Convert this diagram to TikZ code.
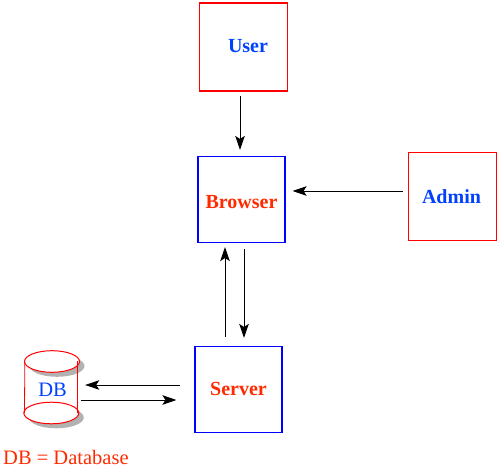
\documentclass[tikz,border=0pt]{standalone}
\usepackage{fontspec}
\setmainfont{Liberation Serif}
\usetikzlibrary{arrows.meta,shapes.geometric}
\definecolor{labelred}{RGB}{255,42,0}
\definecolor{labelblue}{RGB}{0,64,255}

\begin{document}
\begin{tikzpicture}[x=1pt,y=1pt,>={Stealth[length=14pt,width=9.5pt,inset=3pt]},
    every node/.style={align=center,font=\fontsize{20.5}{24}\selectfont},
    redbox/.style={draw=red,line width=1.2pt,minimum width=88pt,minimum height=88pt,text=labelblue,font=\fontsize{20}{24}\selectfont\bfseries},
    bluebox/.style={draw=blue,line width=1.1pt,minimum width=87pt,minimum height=86pt,text=labelred,font=\fontsize{20}{24}\selectfont\bfseries},
    disk/.style={ellipse,draw=red,line width=1pt,fill=white,minimum width=55pt,minimum height=21.6pt,inner sep=0pt},
    diskshadow/.style={ellipse,fill=black!30,minimum width=55pt,minimum height=21.6pt,inner sep=0pt},
    flow/.style={->,line width=0.9pt,black}]
  \useasboundingbox (0,0) rectangle (500,471);

  \node[redbox] (User) at (243.5,424) {\hspace{9pt}\raisebox{1pt}[\height][\depth]{User}};
  \node[bluebox] (Browser) at (241.5,271.5) {\raisebox{-3pt}[\height][\depth]{Browser}};
  \node[redbox] (Admin) at (452.5,274.5) {\hspace{-2pt}Admin};
  \node[bluebox] (Server) at (238.5,81.5) {\raisebox{1pt}[\height][\depth]{Server}};

  \node[diskshadow] (DBbottomshadow) at (56.3,53.5) {};
  \node[diskshadow] (DBtopshadow) at (57,105) {};
  \node[disk] (DBbottom) at (51.3,58) {};
  \node[disk] (DBtop) at (52,109.5) {};
  \draw[red,line width=0.8pt] ([xshift=0.8pt]DBtop.west) -- ([xshift=1.2pt]DBbottom.west);
  \draw[red,line width=0.8pt] ([xshift=-2.5pt]DBtop.east) -- ([xshift=-1.8pt]DBbottom.east);
  \node[text=labelblue,minimum width=52pt,minimum height=30pt,inner sep=0pt] (DB) at (52.5,81.5) {DB};

  \node[text=labelred,anchor=west,inner sep=0pt] (legend) at (3,14) {DB = Database};

  % arrows stop short of the boxes
  \draw[flow,shorten <=4pt,shorten >=6pt] ([xshift=-3.5pt]User.south) -- ([xshift=-1.5pt]Browser.north);
  \draw[flow,shorten <=5pt,shorten >=7pt] ([yshift=5.5pt]Admin.west) -- ([yshift=8.5pt]Browser.east);
  \draw[flow,shorten <=9pt,shorten >=4pt] ([xshift=-13.5pt]Server.north) -- ([xshift=-16.5pt]Browser.south);
  \draw[flow,shorten <=6pt,shorten >=8pt] ([xshift=2.5pt]Browser.south) -- ([xshift=5.5pt]Server.north);
  \draw[flow,shorten <=14pt,shorten >=6.5pt] ([yshift=4.5pt]Server.west) -- ([yshift=4.5pt]DB.east);
  \draw[flow,shorten <=2.5pt,shorten >=18pt] ([yshift=-10.5pt]DB.east) -- ([yshift=-10.5pt]Server.west);
\end{tikzpicture}
\end{document}
